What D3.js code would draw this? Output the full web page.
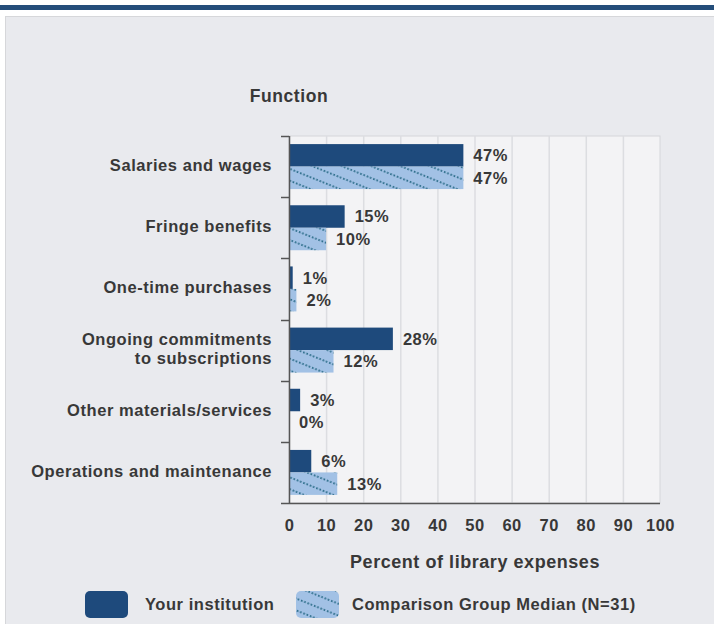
<!DOCTYPE html>
<html><head><meta charset="utf-8">
<script src="https://cdn.jsdelivr.net/npm/d3@7/dist/d3.min.js"></script>
<style>
html,body{margin:0;padding:0;background:#fff;}
svg{display:block;font-family:"Liberation Sans",Arial,sans-serif;}
svg text{letter-spacing:0.55px;}
</style></head>
<body>
<script>
const categories = ["Salaries and wages","Fringe benefits","One-time purchases","Ongoing commitments\nto subscriptions","Other materials/services","Operations and maintenance"];
const institution = [47,15,1,28,3,6];
const comparison = [47,10,2,12,0,13];
const seriesNames = ["Your institution","Comparison Group Median (N=31)"];
const xTicks = [0,10,20,30,40,50,60,70,80,90,100];

const W=714,H=624;
const FS=16.5, TXT="#383838";
const svg=d3.select("body").append("svg").attr("width",W).attr("height",H);
const defs=svg.append("defs");
const pat=defs.append("pattern").attr("id","hatch").attr("patternUnits","userSpaceOnUse")
  .attr("width",14).attr("height",11).attr("patternTransform","rotate(22)");
pat.append("rect").attr("width",14).attr("height",11).attr("fill","#a2c1e5");
pat.append("line").attr("x1",0).attr("y1",4).attr("x2",14).attr("y2",4)
  .attr("stroke","#2f6f8c").attr("stroke-width",1.8).attr("stroke-dasharray","1.6,1.9");

// top stripe & panel
svg.append("rect").attr("x",0).attr("y",5).attr("width",W).attr("height",5).attr("fill","#244d7a");
svg.append("rect").attr("x",5.5).attr("y",16.5).attr("width",W).attr("height",H).attr("fill","#e9eaee").attr("stroke","#d6d7da");

const x=d3.scaleLinear().domain([0,100]).range([289,660]);
const y0=d3.scaleBand().domain(categories).range([136,503]).padding(0);
const y1=d3.scaleBand().domain(seriesNames).range([0,y0.bandwidth()]).paddingInner(0).paddingOuter(0.36);

// plot bg
svg.append("rect").attr("x",x(0)).attr("y",136).attr("width",x(100)-x(0)).attr("height",503-136)
  .attr("fill","#f3f3f5").attr("stroke","#d5d6da");
// gridlines
svg.append("g").selectAll("line").data(xTicks.slice(1,-1)).join("line")
  .attr("x1",d=>x(d)+0.5).attr("x2",d=>x(d)+0.5).attr("y1",136).attr("y2",503)
  .attr("stroke","#dcdde1").attr("stroke-width",1.5);

const color="#1e4a7c";
const g=svg.append("g");
categories.forEach((c,i)=>{
  const vals=[institution[i],comparison[i]];
  vals.forEach((v,j)=>{
    const yy=y0(c)+y1(seriesNames[j]);
    g.append("rect").attr("x",x(0)).attr("y",yy).attr("width",x(v)-x(0)).attr("height",y1.bandwidth())
      .attr("fill",j===0?color:"url(#hatch)");
    g.append("text").attr("x",x(v)+10).attr("y",yy+y1.bandwidth()/2).attr("dy","0.36em")
      .attr("font-size",FS).attr("font-weight","bold").attr("fill",TXT).text(v+"%");
  });
});

// left axis
svg.append("line").attr("x1",x(0)+0.5).attr("x2",x(0)+0.5).attr("y1",136).attr("y2",504).attr("stroke","#555").attr("stroke-width",1.5);
svg.append("g").selectAll("line").data(d3.range(categories.length)).join("line")
  .attr("x1",281).attr("x2",x(0)).attr("y1",i=>Math.round(y0(categories[i]))+0.5).attr("y2",i=>Math.round(y0(categories[i]))+0.5)
  .attr("stroke","#555").attr("stroke-width",1.5);
svg.append("line").attr("x1",281).attr("x2",x(100)).attr("y1",503.5).attr("y2",503.5).attr("stroke","#555").attr("stroke-width",1.5);

// category labels
categories.forEach(c=>{
  const lines=c.split("\n");
  const cy=y0(c)+y0.bandwidth()/2-1.5;
  const t=svg.append("text").attr("x",272).attr("text-anchor","end").attr("font-size",FS).attr("font-weight","bold").attr("fill",TXT);
  lines.forEach((l,k)=>{
    t.append("tspan").attr("x",272).attr("y",cy+(k-(lines.length-1)/2)*18.5).attr("dy","0.36em").text(l);
  });
});

// x axis
const xa=d3.axisBottom(x).tickValues(xTicks).tickSize(0).tickPadding(0);
const gx=svg.append("g").attr("transform","translate(0,525)").call(xa);
gx.select(".domain").remove();
gx.selectAll("text").attr("dy","0.36em").attr("font-size",FS).attr("font-weight","bold").attr("fill",TXT).attr("font-family","Liberation Sans, Arial, sans-serif");

svg.append("text").attr("x",475).attr("y",562).attr("dy","0.36em").attr("text-anchor","middle")
  .attr("font-size",18).attr("font-weight","bold").attr("fill",TXT).text("Percent of library expenses");
svg.append("text").attr("x",289).attr("y",96).attr("dy","0.36em").attr("text-anchor","middle")
  .attr("font-size",17.5).attr("font-weight","bold").attr("fill",TXT).text("Function");

// legend
const leg=[{x:85,fill:color,tx:145,label:seriesNames[0]},{x:296,fill:"url(#hatch)",tx:352,label:seriesNames[1]}];
leg.forEach(d=>{
  svg.append("rect").attr("x",d.x).attr("y",591).attr("width",43).attr("height",27).attr("rx",5).attr("fill",d.fill);
  svg.append("text").attr("x",d.tx).attr("y",604).attr("dy","0.36em").attr("font-size",FS).attr("font-weight","bold").attr("fill",TXT).text(d.label);
});
</script>
</body></html>
